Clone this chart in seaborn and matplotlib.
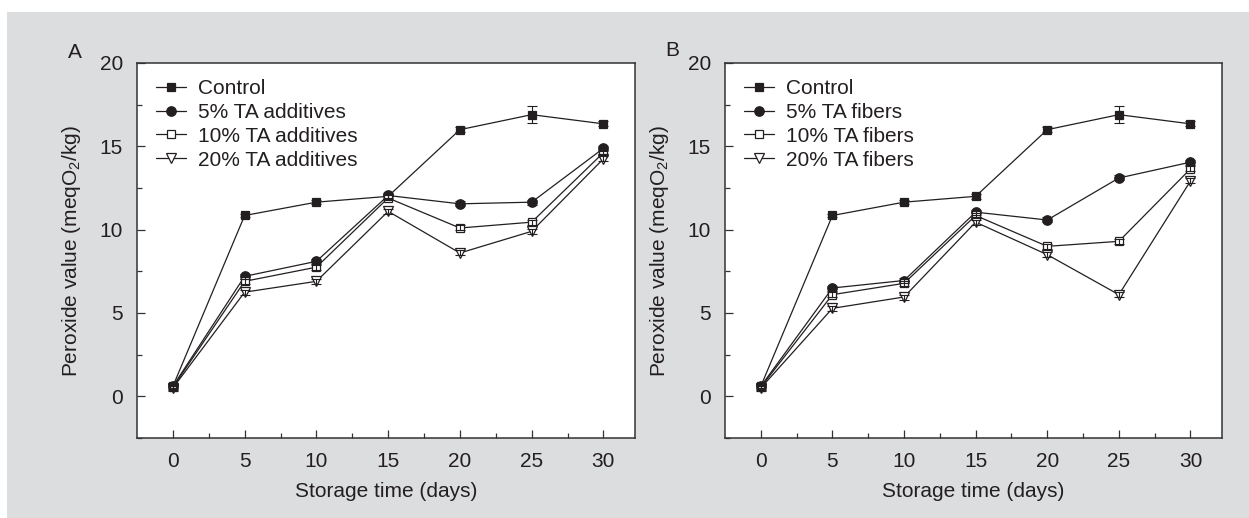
import numpy as np
import pandas as pd
import seaborn as sns
import matplotlib.pyplot as plt
from matplotlib.patches import Rectangle

sns.set_theme(style="ticks")
plt.rcParams['font.family'] = ['Liberation Sans', 'DejaVu Sans']
plt.rcParams['mathtext.default'] = 'regular'

days = [0, 5, 10, 15, 20, 25, 30]

# panel A - additives
a_control = [0.6, 10.85, 11.65, 12.0, 16.0, 16.9, 16.35]
a_5 = [0.6, 7.2, 8.1, 12.05, 11.55, 11.65, 14.88]
a_10 = [0.55, 6.9, 7.75, 11.9, 10.1, 10.45, 14.62]
a_20 = [0.5, 6.25, 6.9, 11.1, 8.6, 9.9, 14.25]

# panel B - fibers
b_control = [0.6, 10.85, 11.65, 12.0, 16.0, 16.9, 16.35]
b_5 = [0.6, 6.5, 6.95, 11.05, 10.58, 13.1, 14.05]
b_10 = [0.55, 6.1, 6.78, 10.85, 9.0, 9.3, 13.65]
b_20 = [0.5, 5.28, 5.96, 10.45, 8.5, 6.1, 12.92]

err_control = [0.12, 0.1, 0.12, 0.15, 0.15, 0.5, 0.15]
err_small = [0.15, 0.15, 0.15, 0.15, 0.15, 0.15, 0.15]

labels_a = ["Control", "5% TA additives", "10% TA additives", "20% TA additives"]
labels_b = ["Control", "5% TA fibers", "10% TA fibers", "20% TA fibers"]

ink = "#231f20"
styles = [
    dict(marker="s", markerfacecolor=ink, markersize=6.3),
    dict(marker="o", markerfacecolor=ink, markersize=6.8),
    dict(marker="s", markerfacecolor="white", markersize=6.3),
    dict(marker="v", markerfacecolor="white", markersize=7.2),
]
fs = 15

fig = plt.figure(figsize=(12.49, 5.18), dpi=100)
fig.patch.set_facecolor("white")
fig.patches.append(Rectangle((7 / 1249, 0), 1, 1 - 12 / 518, transform=fig.transFigure,
                             facecolor="#dcdddf", edgecolor="none", zorder=-10))

ax_a = fig.add_axes([137 / 1249, 80 / 518, 498 / 1249, 375 / 518])
ax_b = fig.add_axes([725 / 1249, 80 / 518, 497 / 1249, 375 / 518])


def draw_panel(ax, series, labels):
    ax.set_facecolor("white")
    for vals, lab, st in zip(series, labels, styles):
        df = pd.DataFrame({"day": days, "pv": vals})
        sns.lineplot(data=df, x="day", y="pv", ax=ax, color=ink, linewidth=0.9,
                     markeredgecolor=ink, markeredgewidth=0.9, label=lab, **st)
    for vals, err in zip(series, [err_control, err_small, err_small, err_small]):
        ax.errorbar(days, vals, yerr=err, fmt="none", ecolor=ink, elinewidth=0.8,
                    capsize=3.5, capthick=0.8, zorder=5)

    ax.set_xlim(-2.5, 32.2)
    ax.set_ylim(-2.5, 20)
    ax.set_xticks(days)
    ax.set_yticks([0, 5, 10, 15, 20])
    ax.set_xticks(np.arange(2.5, 30, 5), minor=True)
    ax.set_yticks(np.arange(-2.5, 20, 5), minor=True)
    ax.tick_params(which="both", direction="in", color="#333333", width=0.9,
                   labelsize=fs, labelcolor=ink, pad=10)
    ax.tick_params(which="major", length=6)
    ax.tick_params(which="minor", length=3.5)
    for sp in ax.spines.values():
        sp.set_color("#333333")
        sp.set_linewidth(1.1)

    ax.set_xlabel("Storage time (days)", fontsize=fs, color=ink)
    ax.set_ylabel("Peroxide value (meqO$_2$/kg)", fontsize=fs, color=ink)
    ax.xaxis.set_label_coords(0.5, -0.117)
    ax.yaxis.set_label_coords(-0.108, 0.5)

    ax.legend(loc="upper left", bbox_to_anchor=(0.038, 0.957), frameon=False,
              fontsize=fs, borderaxespad=0, borderpad=0, handlelength=1.45,
              handletextpad=0.55, labelspacing=0.23, labelcolor=ink)


draw_panel(ax_a, [a_control, a_5, a_10, a_20], labels_a)
draw_panel(ax_b, [b_control, b_5, b_10, b_20], labels_b)

fig.text(75 / 1249, 1 - 52 / 518, "A", fontsize=fs, color=ink, ha="center", va="center")
fig.text(672 / 1249, 1 - 50 / 518, "B", fontsize=fs, color=ink, ha="center", va="center")

fig.savefig("out.png", dpi=100)
